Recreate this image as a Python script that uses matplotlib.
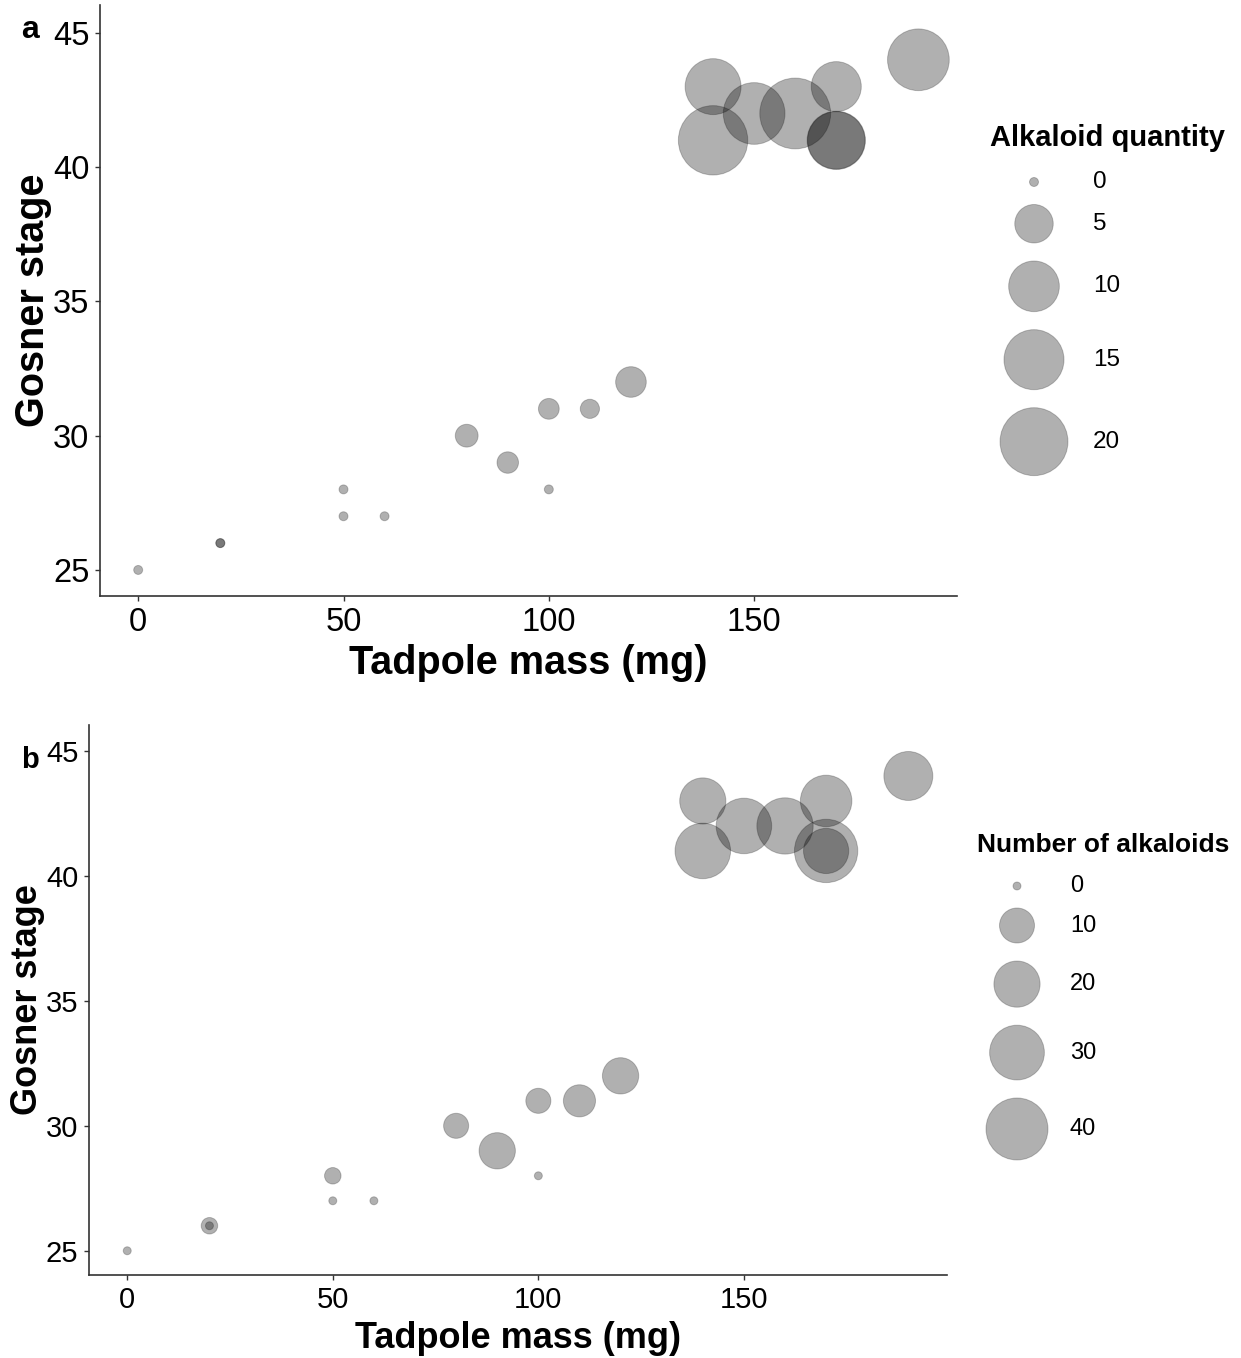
import numpy as np
import matplotlib.pyplot as plt

plt.rcParams['font.family'] = ['Liberation Sans', 'DejaVu Sans']

# data (same individuals in both panels)
mass = [0, 20, 20, 50, 50, 60, 80, 90, 100, 100, 110, 120, 140, 140, 150, 160, 170, 170, 170, 190]
stage = [25, 26, 26, 28, 27, 27, 30, 29, 31, 28, 31, 32, 43, 41, 42, 42, 43, 41, 41, 44]
quantity = [0, 0, 0, 0, 0, 0, 1.1, 0.9, 0.8, 0, 0.6, 2.7, 12.7, 21, 16, 22, 9.7, 13.5, 14, 16]
n_alk = [0, 1, 0, 1, 0, 0, 4, 11, 4, 0, 8, 11, 20, 31, 31, 32, 26, 42, 19, 23]

quant_breaks = [0, 5, 10, 15, 20]
nalk_breaks = [0, 10, 20, 30, 40]

W, H, DPI = 1241, 1358, 100
PX = 72 / DPI  # points per pixel

FACE = (0, 0, 0, 0.31)
EDGE = (0, 0, 0, 0.22)


def radius_px(v, r0, k):
    return r0 + k * np.sqrt(np.asarray(v, dtype=float))


def size_pt2(v, r0, k):
    return (2 * radius_px(v, r0, k) * PX) ** 2


fig = plt.figure(figsize=(W / DPI, H / DPI), dpi=DPI)

ax_a = fig.add_axes([100 / W, 1 - 596 / H, 857 / W, 591 / H])
ax_b = fig.add_axes([89 / W, 1 - 1275 / H, 858 / W, 550 / H])

panels = [
    (ax_a, quantity, 4.5, 6.59, 23.5, 28.5),
    (ax_b, n_alk, 4.0, 4.27, 21, 26),
]

for ax, val, r0, k, tfs, lfs in panels:
    ax.scatter(mass, stage, s=size_pt2(val, r0, k), facecolor=FACE,
               edgecolor=EDGE, linewidth=0.7, zorder=3)
    ax.set_xlim(-9.3, 199.4)
    ax.set_ylim(24.03, 46.04)
    ax.set_xticks([0, 50, 100, 150])
    ax.set_yticks([25, 30, 35, 40, 45])
    for side in ['top', 'right']:
        ax.spines[side].set_visible(False)
    for side in ['left', 'bottom']:
        ax.spines[side].set_linewidth(1.2)
        ax.spines[side].set_color('#333333')
    ax.tick_params(length=3.6, width=1.0, color='#333333', labelsize=tfs,
                   pad=4, labelcolor='black')
    ax.set_xlabel('Tadpole mass (mg)', fontsize=lfs, fontweight='bold', labelpad=5)
    ax.set_ylabel('Gosner stage', fontsize=lfs, fontweight='bold', labelpad=1)

fig.text(30 / W, 1 - 30 / H, 'a', fontsize=23, fontweight='bold', ha='center', va='center')
fig.text(30 / W, 1 - 760 / H, 'b', fontsize=21, fontweight='bold', ha='center', va='center')

# size legends drawn in pixel space
leg = fig.add_axes([0, 0, 1, 1], zorder=5)
leg.set_xlim(0, W)
leg.set_ylim(H, 0)
leg.axis('off')

legends = [
    ('Alkaloid quantity', quant_breaks, 4.5, 6.59, 990, 138, 1034, 182, 1093, 21, 17.5),
    ('Number of alkaloids', nalk_breaks, 4.0, 4.27, 977, 845, 1017, 886, 1070, 19, 17),
]

for title, breaks, r0, k, tx, ty, kx, ky0, lx, tfs, lfs in legends:
    leg.text(tx, ty, title, fontsize=tfs, fontweight='bold', va='center', ha='left')
    d = 2 * radius_px(breaks, r0, k)
    h = d + 18
    ys = ky0 + np.concatenate([[0], np.cumsum((h[:-1] + h[1:]) / 2)])
    leg.scatter([kx] * len(breaks), ys, s=size_pt2(breaks, r0, k), facecolor=FACE,
                edgecolor=EDGE, linewidth=0.7)
    for y, b in zip(ys, breaks):
        leg.text(lx, y, str(b), fontsize=lfs, va='center', ha='left')

fig.savefig('out.png', dpi=DPI)
